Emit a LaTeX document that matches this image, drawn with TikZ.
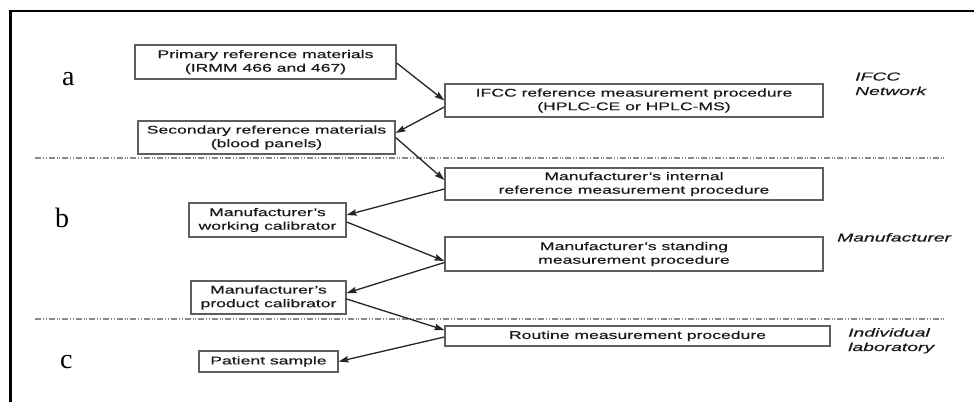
\documentclass[tikz,border=0pt]{standalone}
\usepackage{fontspec}
\usetikzlibrary{arrows.meta,calc}
\newfontfamily\boxfont[FakeStretch=1.57,FakeBold=0.35]{Liberation Sans}
\newfontfamily\sidefont[FakeStretch=1.68,FakeBold=0.3]{Liberation Sans}
\newfontfamily\tagfont{Liberation Serif}
\definecolor{boxline}{HTML}{5E5E5E}
\definecolor{arrowline}{HTML}{262626}
\definecolor{sepline}{HTML}{8A8A8A}
\tikzset{
  stagebox/.style={draw=boxline, line width=1.3pt, inner sep=0pt, align=center,
    font=\boxfont\fontsize{11.2}{13.6}\selectfont, text=black!90},
  flow/.style={draw=arrowline, fill=arrowline, line width=1.3pt,
    -{Stealth[length=10pt,width=6.5pt,inset=1.5pt]}},
  sep/.style={draw=sepline, line width=1.2pt,
    dash pattern=on 6pt off 2pt on 1pt off 1.6pt on 1pt off 2pt},
  sidelabel/.style={anchor=base west, inner sep=0pt, align=left,
    font=\sidefont\itshape\fontsize{11.5}{14.5}\selectfont, text=black!90},
  tag/.style={anchor=base west, inner sep=0pt, font=\tagfont\fontsize{28}{28}\selectfont}
}
\begin{document}
\begin{tikzpicture}[x=1pt,y=1pt]
\useasboundingbox (0,-402) rectangle (974,0);
\fill[white] (0,-402) rectangle (974,0);

% outer frame (top and left edges)
\draw[black, line width=2.4pt] (10.5,-402) -- (10.5,-11) -- (974,-11);

% tier separators
\draw[sep] (35,-158) -- (945,-158);
\draw[sep] (35,-319) -- (945,-319);

% tier tags
\node[tag] (ta) at (62,-85) {a};
\node[tag] (tb) at (55,-227) {b};
\node[tag] (tc) at (60,-368) {c};

% stages
\node[stagebox, minimum width=261pt, minimum height=34pt] (prim) at (265.5,-62)
  {Primary reference materials\\(IRMM 466 and 467)};
\node[stagebox, minimum width=378pt, minimum height=33pt] (ifcc) at (634,-100.5)
  {IFCC reference measurement procedure\\(HPLC-CE or HPLC-MS)};
\node[stagebox, minimum width=257pt, minimum height=33pt] (sec) at (266.5,-137.5)
  {Secondary reference materials\\(blood panels)};
\node[stagebox, minimum width=378pt, minimum height=32pt] (intl) at (634,-184)
  {Manufacturer’s internal\\reference measurement procedure};
\node[stagebox, minimum width=157pt, minimum height=34pt] (work) at (267.5,-220)
  {Manufacturer’s\\working calibrator};
\node[stagebox, minimum width=378pt, minimum height=34pt] (stand) at (634,-254)
  {Manufacturer’s standing\\measurement procedure};
\node[stagebox, minimum width=155pt, minimum height=33pt] (prod) at (268.5,-297.5)
  {Manufacturer’s\\product calibrator};
\node[stagebox, minimum width=385pt, minimum height=20pt] (rout) at (637.5,-336)
  {Routine measurement procedure};
\node[stagebox, minimum width=139pt, minimum height=21pt] (pat) at (268.5,-361.5)
  {Patient sample};

% side labels
\node[sidelabel] (lnet) at (855,-95) {IFCC\\Network};
\node[sidelabel] (lman) at (837,-241.5) {Manufacturer};
\node[sidelabel] (llab) at (848,-351) {Individual\\laboratory};

% traceability chain
\draw[flow] ([yshift=-1pt]prim.east) -- (ifcc.west);
\draw[flow] ([yshift=-6.5pt]ifcc.west) -- ([yshift=4.5pt]sec.east);
\draw[flow] (sec.east) -- ([yshift=4pt]intl.west);
\draw[flow] ([yshift=-5pt]intl.west) -- ([yshift=5pt]work.east);
\draw[flow] ([yshift=-2pt]work.east) -- ([yshift=-7pt]stand.west);
\draw[flow] ([yshift=-8.5pt]stand.west) -- ([yshift=4.5pt]prod.east);
\draw[flow] ([yshift=-1.5pt]prod.east) -- ([yshift=6pt]rout.west);
\draw[flow] ([yshift=-1pt]rout.west) -- (pat.east);
\end{tikzpicture}
\end{document}
